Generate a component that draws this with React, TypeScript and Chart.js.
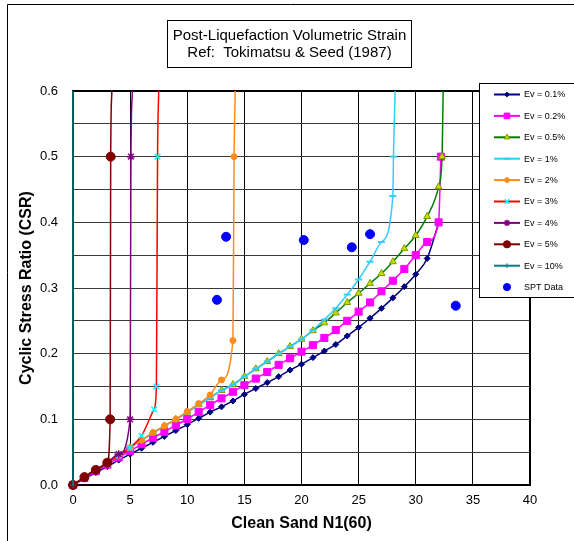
import React, { useEffect, useRef } from 'react';
import { Chart, registerables } from 'chart.js';
import { drawPoint } from 'chart.js/helpers';

Chart.register(...registerables);

// ---- Data (Clean Sand N1(60) vs CSR) ----
const ev01N = [0,1,2,3,4,5,6,7,8,9,10,11,12,13,14,15,16,17,18,19,20,21,22,23,24,25,26,27,28,29,30,31,32];
const ev01CSR = [0,0.0095,0.019,0.028,0.038,0.047,0.056,0.065,0.074,0.083,0.092,0.1015,0.111,0.119,0.128,0.138,0.147,0.156,0.165,0.175,0.184,0.194,0.204,0.214,0.227,0.24,0.254,0.269,0.285,0.302,0.321,0.345,0.399];

const ev02N = [0,1,2,3,4,5,6,7,8,9,10,11,12,13,14,15,16,17,18,19,20,21,22,23,24,25,26,27,28,29,30,31,32,32.2];
const ev02CSR = [0,0.0105,0.021,0.031,0.042,0.052,0.062,0.072,0.081,0.091,0.1005,0.111,0.122,0.132,0.142,0.152,0.162,0.172,0.183,0.193,0.203,0.213,0.224,0.236,0.25,0.264,0.278,0.295,0.311,0.329,0.35,0.37,0.4,0.5];

const ev05N = [0,1,2,3,4,5,6,7,8,9,10,11,12,13,14,15,16,17,18,19,20,21,22,23,24,25,26,27,28,29,30,31,32,32.3,32.4];
const ev05CSR = [0,0.0115,0.023,0.034,0.045,0.057,0.068,0.079,0.09,0.1,0.111,0.122,0.133,0.144,0.153,0.165,0.177,0.188,0.2,0.211,0.222,0.235,0.247,0.262,0.278,0.292,0.307,0.322,0.34,0.36,0.38,0.409,0.454,0.5,0.6];

const ev1N = [0,1,2,3,4,5,6,7,8,9,10,11,12,13,14,15,16,17,18,19,20,21,22,23,24,25,26,27,28,28.05,28.2];
const ev1CSR = [0,0.0115,0.023,0.034,0.045,0.057,0.068,0.079,0.09,0.1,0.111,0.122,0.133,0.144,0.153,0.165,0.177,0.188,0.2,0.211,0.222,0.236,0.252,0.269,0.29,0.313,0.34,0.37,0.44,0.5,0.6];

const ev2N = [0,1,2,3,4,5,6,7,8,9,10,11,12,13,14,14.1,14.2];
const ev2CSR = [0,0.0115,0.023,0.034,0.045,0.057,0.068,0.08,0.09,0.1,0.112,0.124,0.137,0.16,0.22,0.5,0.6];

const ev3N = [0,1,2,3,4,5,6,7.1,7.3,7.4,7.5];
const ev3CSR = [0,0.0115,0.023,0.034,0.045,0.057,0.075,0.115,0.15,0.5,0.6];

const ev4N = [0,1,2,3,4,5,5.07,5.2];
const ev4CSR = [0,0.012,0.023,0.034,0.047,0.1,0.5,0.6];

const ev5N = [0,1,2,3,3.25,3.3,3.4];
const ev5CSR = [0,0.012,0.023,0.034,0.1,0.5,0.6];

const ev10N = [0,0];
const ev10CSR = [0,0.6];

const sptN = [12.6,13.4,20.2,24.4,26.0,33.5];
const sptCSR = [0.282,0.378,0.373,0.362,0.382,0.273];

const xTicks = [0,5,10,15,20,25,30,35,40];
const yTickLabels = ['0.0','0.1','0.2','0.3','0.4','0.5','0.6'];

const titleLines = ['Post-Liquefaction Volumetric Strain', 'Ref:  Tokimatsu & Seed (1987)'];
const xTitle = 'Clean Sand N1(60)';
const yTitle = 'Cyclic Stress Ratio (CSR)';

const FONT = '"Liberation Sans", Arial, sans-serif';
const Y_MAX = 0.6;

const zip = (xs: number[], ys: number[]) => xs.map((x, i) => ({ x, y: ys[i] }));

type Series = {
  label: string; xs: number[]; ys: number[]; line: string; style: any;
  radius: number; bg: string; border: string; pbw: number; showLine: boolean; mono: boolean;
};

const series: Series[] = [
  { label: 'Ev = 0.1%', xs: ev01N, ys: ev01CSR, line: '#000080', style: 'rectRot', radius: 3, bg: '#000080', border: '#000080', pbw: 1, showLine: true, mono: true },
  { label: 'Ev = 0.2%', xs: ev02N, ys: ev02CSR, line: '#FF00FF', style: 'rect', radius: 5, bg: '#FF00FF', border: '#FF00FF', pbw: 1, showLine: true, mono: true },
  { label: 'Ev = 0.5%', xs: ev05N, ys: ev05CSR, line: '#008000', style: 'triangle', radius: 4, bg: '#C8DC00', border: '#7A9A00', pbw: 1, showLine: true, mono: true },
  { label: 'Ev = 1%', xs: ev1N, ys: ev1CSR, line: '#33CCFF', style: 'line', radius: 3.5, bg: '#33CCFF', border: '#33CCFF', pbw: 2, showLine: true, mono: true },
  { label: 'Ev = 2%', xs: ev2N, ys: ev2CSR, line: '#FF8C1A', style: 'circle', radius: 3, bg: '#FF8C1A', border: '#FF8C1A', pbw: 1, showLine: true, mono: true },
  { label: 'Ev = 3%', xs: ev3N, ys: ev3CSR, line: '#FF0000', style: 'crossRot', radius: 4, bg: '#00FFFF', border: '#00FFFF', pbw: 1.5, showLine: true, mono: true },
  { label: 'Ev = 4%', xs: ev4N, ys: ev4CSR, line: '#800080', style: 'star', radius: 4, bg: '#800080', border: '#800080', pbw: 1.5, showLine: true, mono: true },
  { label: 'Ev = 5%', xs: ev5N, ys: ev5CSR, line: '#800000', style: 'circle', radius: 4.5, bg: '#800000', border: '#800000', pbw: 1, showLine: true, mono: true },
  { label: 'Ev = 10%', xs: ev10N, ys: ev10CSR, line: '#008080', style: 'cross', radius: 3, bg: '#008080', border: '#008080', pbw: 1, showLine: true, mono: false },
  { label: 'SPT Data', xs: sptN, ys: sptCSR, line: '#0000FF', style: 'circle', radius: 4.5, bg: '#0000FF', border: '#0000FF', pbw: 1, showLine: false, mono: false },
];

const decorPlugin = {
  id: 'decor',
  beforeDraw(chart: any) {
    const { ctx, width, height } = chart;
    ctx.save();
    ctx.fillStyle = '#ffffff';
    ctx.fillRect(0, 0, width, height);
    ctx.restore();
  },
  beforeDatasetsDraw(chart: any) {
    const { ctx, chartArea: a } = chart;
    ctx.save();
    ctx.strokeStyle = '#000';
    ctx.lineWidth = 2;
    ctx.beginPath();
    ctx.moveTo(a.left, a.top);
    ctx.lineTo(a.right, a.top);
    ctx.lineTo(a.right, a.bottom);
    ctx.stroke();
    ctx.restore();
  },
  afterDraw(chart: any) {
    const { ctx } = chart;
    ctx.save();
    // outer chart frame
    ctx.strokeStyle = '#000';
    ctx.lineWidth = 1;
    ctx.beginPath();
    ctx.moveTo(7.5, 541);
    ctx.lineTo(7.5, 4.5);
    ctx.lineTo(574, 4.5);
    ctx.stroke();

    // title box
    const tb = { x: 167.5, y: 20.5, w: 244, h: 47 };
    ctx.fillStyle = '#fff';
    ctx.fillRect(tb.x, tb.y, tb.w, tb.h);
    ctx.strokeRect(tb.x, tb.y, tb.w, tb.h);
    ctx.fillStyle = '#000';
    ctx.font = `15px ${FONT}`;
    ctx.textAlign = 'center';
    ctx.textBaseline = 'middle';
    ctx.fillText(titleLines[0], tb.x + tb.w / 2, 36);
    ctx.fillText(titleLines[1], tb.x + tb.w / 2, 53);

    // legend box
    const lb = { x: 479.5, y: 83.5, w: 100, h: 214 };
    ctx.fillStyle = '#fff';
    ctx.fillRect(lb.x, lb.y, lb.w, lb.h);
    ctx.strokeStyle = '#000';
    ctx.strokeRect(lb.x, lb.y, lb.w, lb.h);
    ctx.font = `9px ${FONT}`;
    ctx.textAlign = 'left';
    ctx.textBaseline = 'middle';
    series.forEach((s, i) => {
      const y = 94.5 + i * 21.4;
      if (s.showLine) {
        ctx.strokeStyle = s.line;
        ctx.lineWidth = 2;
        ctx.beginPath();
        ctx.moveTo(494, y);
        ctx.lineTo(520, y);
        ctx.stroke();
      }
      ctx.fillStyle = s.bg;
      ctx.strokeStyle = s.border;
      ctx.lineWidth = s.pbw;
      drawPoint(ctx, { pointStyle: s.style, radius: s.radius * 0.8, rotation: 0, borderWidth: s.pbw } as any, 507, y);
      ctx.fillStyle = '#000';
      ctx.fillText(s.label, 524, y + 0.5);
    });
    ctx.restore();
  },
};

export default function App() {
  const canvasRef = useRef<HTMLCanvasElement | null>(null);

  useEffect(() => {
    if (!canvasRef.current) return;
    const n = series.length;
    const datasets = series.map((s, i) => ({
      label: s.label,
      data: zip(s.xs, s.ys),
      showLine: s.showLine,
      borderColor: s.line,
      backgroundColor: s.bg,
      borderWidth: 1.5,
      pointStyle: s.style,
      // curves run off the top of the plot: no marker at the top edge
      pointRadius: s.ys.map((y) => (y >= Y_MAX ? 0 : s.radius)),
      pointBackgroundColor: s.bg,
      pointBorderColor: s.border,
      pointBorderWidth: s.pbw,
      cubicInterpolationMode: s.mono ? 'monotone' : 'default',
      tension: 0,
      clip: false,
      order: n - i,
    }));

    const chart = new Chart(canvasRef.current, {
      type: 'scatter',
      data: { datasets: datasets as any },
      plugins: [decorPlugin],
      options: {
        animation: false,
        responsive: false,
        layout: { padding: { top: 91, right: 44, bottom: 0, left: 0 } },
        plugins: {
          legend: { display: false },
          title: { display: false },
          tooltip: { enabled: false },
        },
        scales: {
          x: {
            type: 'linear',
            min: xTicks[0],
            max: xTicks[xTicks.length - 1],
            afterFit: (scale: any) => { scale.height = 56; },
            ticks: {
              stepSize: 5,
              color: '#000',
              font: { family: FONT, size: 13 },
              padding: 8,
              maxRotation: 0,
            },
            grid: { color: '#000', lineWidth: 1, drawTicks: false },
            border: { color: '#000', width: 2 },
            title: {
              display: true,
              text: xTitle,
              color: '#000',
              font: { family: FONT, size: 16, weight: 'bold' },
              padding: { top: 0, bottom: 8 },
            },
          },
          y: {
            type: 'linear',
            min: 0,
            max: Y_MAX,
            afterFit: (scale: any) => { scale.width = 73; },
            ticks: {
              stepSize: 0.05,
              color: '#000',
              font: { family: FONT, size: 13 },
              padding: 15,
              callback: (v: any) => {
                const k = Math.round(Number(v) * 100);
                if (k % 10 !== 0) return '';
                return yTickLabels[k / 10];
              },
            },
            grid: { color: '#3a3a3a', lineWidth: 1, drawTicks: false },
            border: { color: '#000', width: 1.5 },
            title: {
              display: true,
              text: yTitle,
              color: '#000',
              font: { family: FONT, size: 16, weight: 'bold' },
              padding: { top: 17, bottom: 0 },
            },
          },
        },
      } as any,
    });
    return () => chart.destroy();
  }, []);

  return (
    <canvas
      ref={canvasRef}
      width={574}
      height={541}
      style={{ position: 'absolute', left: 0, top: 0, display: 'block' }}
    />
  );
}
